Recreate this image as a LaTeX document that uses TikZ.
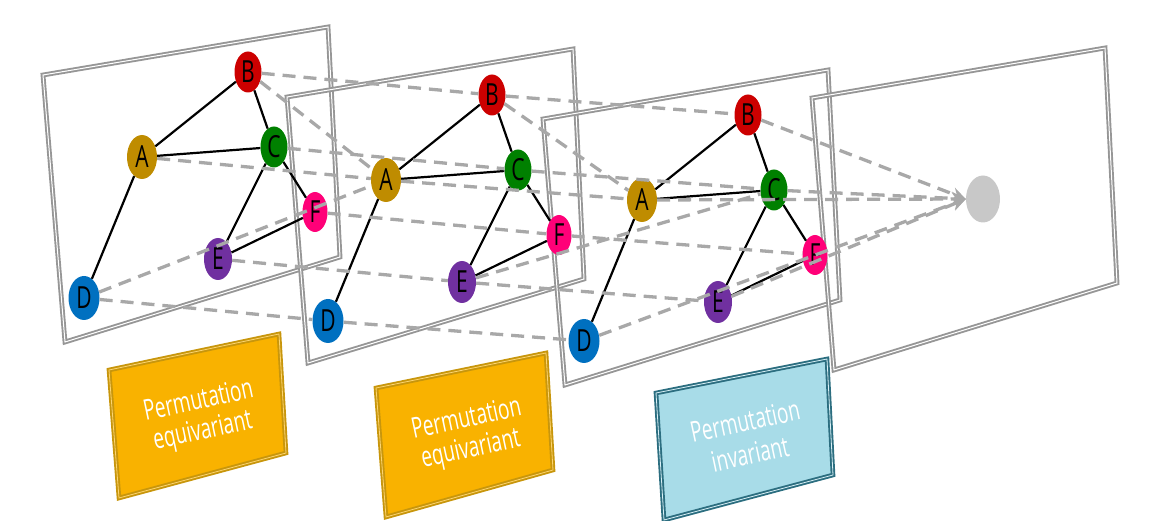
\documentclass[tikz,border=0pt]{standalone}
\usepackage{fontspec}
\usepackage{graphicx}
\setmainfont{Open Sans}
\usetikzlibrary{shapes.geometric,arrows.meta}
\definecolor{cA}{HTML}{BF8C00}
\definecolor{cB}{HTML}{CC0000}
\definecolor{cC}{HTML}{008000}
\definecolor{cD}{HTML}{0070C0}
\definecolor{cE}{HTML}{7030A0}
\definecolor{cF}{HTML}{FF0078}
\definecolor{framec}{HTML}{969696}
\definecolor{dashc}{HTML}{A8A8A8}
\definecolor{gnode}{HTML}{C8C8C8}
\definecolor{orfill}{HTML}{F9B200}
\definecolor{ordraw}{HTML}{C8960C}
\definecolor{orlight}{HTML}{FCD470}
\definecolor{blfill}{HTML}{A8DCE8}
\definecolor{bldraw}{HTML}{2C6E80}
\definecolor{bllight}{HTML}{D8F0F6}
\newcommand\stretchL[1]{\scalebox{1}[1.45]{#1}}
\newcommand\stretchT[1]{\scalebox{1}[1.5]{#1}}
\tikzset{
  panelframe/.style={draw=framec, double=white, line width=1.9pt, double distance=1pt, line join=miter},
  gn/.style={ellipse, inner sep=0pt, minimum width=27pt, minimum height=41pt, font=\fontsize{21}{23}\selectfont, text=black},
  edg/.style={draw=black, line width=2.2pt},
  dsh/.style={draw=dashc, line width=3.3pt, dash pattern=on 13pt off 8pt},
  dsha/.style={dsh, -{Stealth[length=14pt,width=13pt]}},
  orbox/.style={draw=ordraw, double=orlight, fill=orfill, line width=1.9pt, double distance=0.8pt, line join=miter},
  blbox/.style={draw=bldraw, double=bllight, fill=blfill, line width=1.9pt, double distance=0.8pt, line join=miter},
  boxtext/.style={rotate=12, text=white, inner sep=0pt, font=\fontsize{19}{22}\selectfont},
}
\begin{document}
\begin{tikzpicture}[x=1pt,y=-1pt]
\useasboundingbox (0,0) rectangle (1160,521);
% panels
\draw[panelframe] (43,75) -- (328,27) -- (340,257) -- (65,342) -- cycle;
\draw[panelframe] (287,97) -- (573,49) -- (584,279) -- (308,363) -- cycle;
\draw[panelframe] (543,119) -- (828,70) -- (840,300) -- (565,385) -- cycle;
\draw[panelframe] (812,98) -- (1105,48) -- (1117,283) -- (834,370) -- cycle;
% label boxes
\draw[orbox] (109,370) -- (279,334) -- (286,453) -- (119,498) -- cycle;
\draw[orbox] (376,388) -- (546,353) -- (553,470) -- (386,517) -- cycle;
\draw[blbox] (656,393) -- (827,359) -- (833,475) -- (664,520) -- cycle;
\node[boxtext] (t1a) at (198,399) {\stretchT{Permutation}};
\node[boxtext] (t1b) at (203,432) {\stretchT{equivariant}};
\node[boxtext] (t2a) at (466,417) {\stretchT{Permutation}};
\node[boxtext] (t2b) at (471,450) {\stretchT{equivariant}};
\node[boxtext] (t3a) at (745,421) {\stretchT{Permutation}};
\node[boxtext] (t3b) at (750,454) {\stretchT{invariant}};
% nodes
\foreach \p/\dx/\dy in {1/0/0, 2/244/23, 3/500/43} {
  \node[gn, fill=cA, minimum width=30pt, minimum height=44pt] (A\p) at (142+\dx,157+\dy) {\stretchL{A}};
  \node[gn, fill=cB] (B\p) at (248+\dx,72+\dy) {\stretchL{B}};
  \node[gn, fill=cC] (C\p) at (274+\dx,147+\dy) {\stretchL{C}};
  \node[gn, fill=cD, minimum width=31pt, minimum height=44pt] (D\p) at (84+\dx,298+\dy) {\stretchL{D}};
  \node[gn, fill=cE, minimum width=28pt, minimum height=42pt] (E\p) at (218+\dx,259+\dy) {\stretchL{E}};
  \node[gn, fill=cF, minimum width=25pt, minimum height=40pt] (F\p) at (315+\dx,212+\dy) {\stretchL{F}};
}
\node[ellipse, fill=gnode, inner sep=0pt, minimum width=34pt, minimum height=47pt] (G) at (983,199) {};
% graph edges
\foreach \p in {1,2,3} {
  \draw[edg] (A\p) -- (B\p);
  \draw[edg] (B\p) -- (C\p);
  \draw[edg] (A\p) -- (C\p);
  \draw[edg] (A\p) -- (D\p);
  \draw[edg] (C\p) -- (E\p);
  \draw[edg] (C\p) -- (F\p);
  \draw[edg] (E\p) -- (F\p);
}
% message passing 1 -> 2
\draw[dsh] (B1) -- (B2);
\draw[dsh] (B1) -- (A2);
\draw[dsh] (C1) -- (C2);
\draw[dsh] (A1) -- (A2);
\draw[dsh] (D1) -- (A2);
\draw[dsh] (F1) -- (F2);
\draw[dsh] (E1) -- (E2);
\draw[dsh] (D1) -- (D2);
% message passing 2 -> 3
\draw[dsh] (B2) -- (B3);
\draw[dsh] (B2) -- (A3);
\draw[dsh] (C2) -- (C3);
\draw[dsh] (A2) -- (A3);
\draw[dsh] (E2) -- (C3);
\draw[dsh] (F2) -- (F3);
\draw[dsh] (E2) -- (E3);
\draw[dsh] (D2) -- (D3);
% readout 3 -> 4
\draw[dsha] (B3) -- (G.west);
\draw[dsha] (C3) -- (G.west);
\draw[dsha] (A3) -- (G.west);
\draw[dsha] (E3) -- (G.west);
\draw[dsha] (D3) -- (G.west);
\end{tikzpicture}
\end{document}
